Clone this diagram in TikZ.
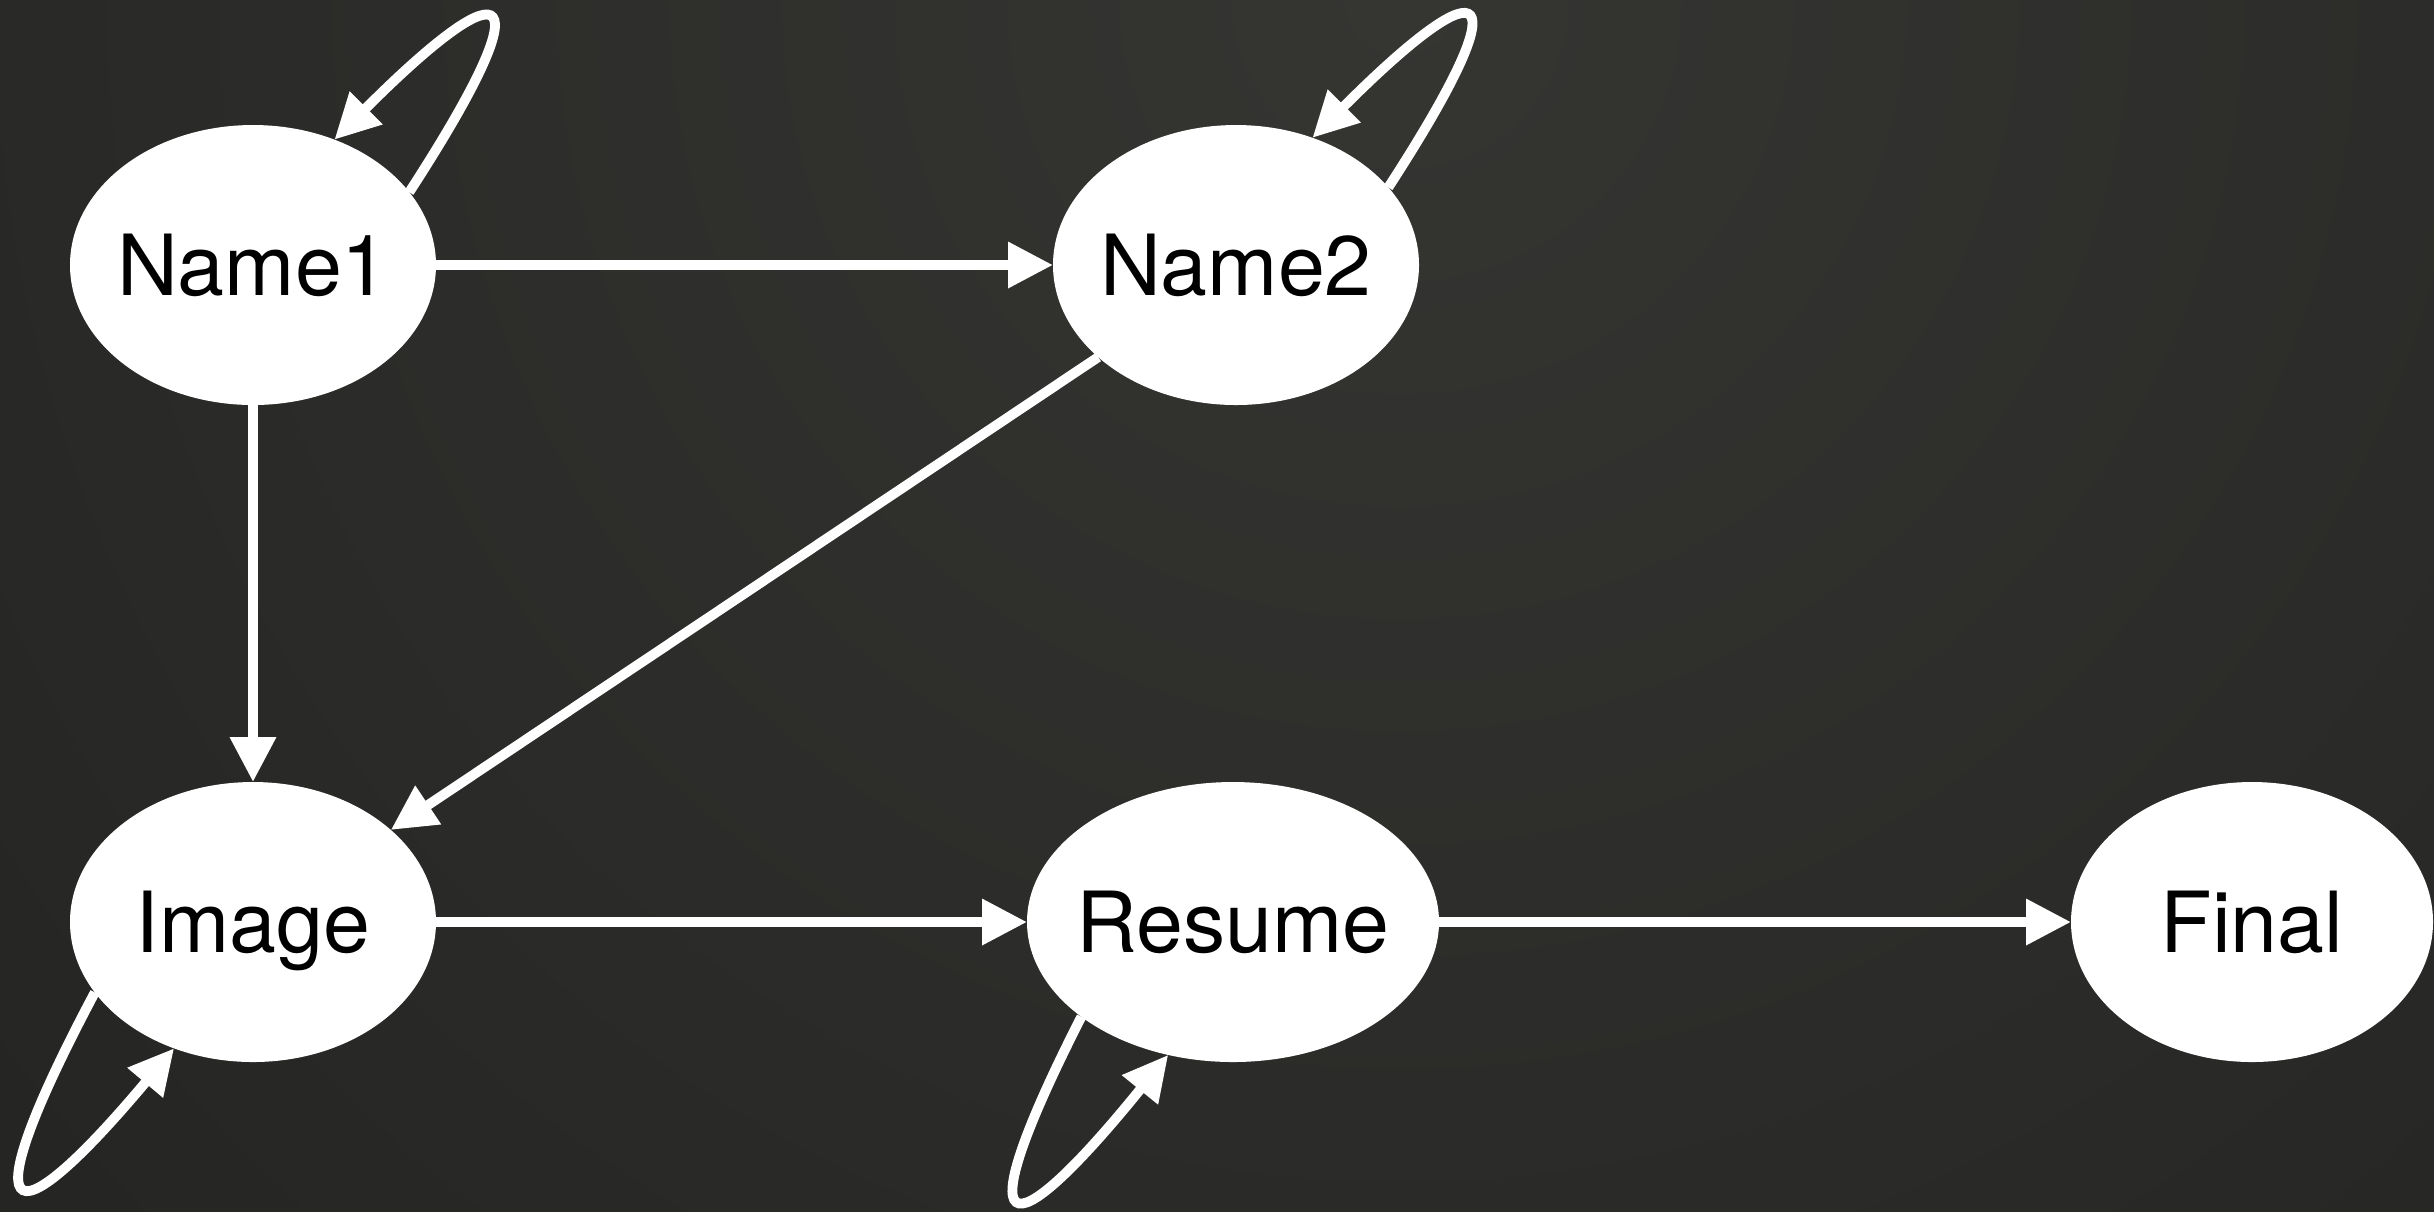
\documentclass[tikz,border=0pt]{standalone}
\usepackage{fontspec}
\setmainfont{TeX Gyre Heros}
\usepackage{tikz}
\usetikzlibrary{arrows.meta}
\usetikzlibrary{shapes}
\definecolor{bgtop}{HTML}{353632}
\definecolor{bgbot}{HTML}{151515}
\tikzset{
	state/.style={ellipse, fill=white, draw=none, inner sep=0pt, outer sep=0pt,
		minimum width=3.66cm, minimum height=2.8cm, text=black,
		font=\fontsize{24}{28}\selectfont, text height=17.2pt, text depth=0pt},
	link/.style={draw=white, line width=2.8pt, -{Triangle[length=0.45cm, width=0.44cm]}},
	selfloop/.style={link, looseness=7},
}
\newcommand{\statelabel}[1]{\makebox[0pt]{#1}}

\begin{document}
\begin{tikzpicture}
	\useasboundingbox (0,0) rectangle (24.34,-12.11);
\begin{scope}
	\clip (0,0) rectangle (24.34,-12.11);
	\shade[inner color=bgtop, outer color=bgbot] (14,0) circle (36);
\end{scope}
	% states
	\node[state] (name1) at (2.53,-2.65) {\statelabel{Name1}};
	\node[state] (name2) at (12.36,-2.65) {\statelabel{Name2}};
	\node[state] (image) at (2.53,-9.22) {\statelabel{Image}};
	\node[state, minimum width=4.12cm] (resume) at (12.33,-9.22) {\statelabel{Resume}};
	\node[state, minimum width=3.62cm] (final) at (22.52,-9.22) {\statelabel{Final}};
	% transitions
	\draw[link] (name1) -- (name2);
	\draw[link] (name1) -- (image);
	\draw[link] (name2) -- (image);
	\draw[link] (image) -- (resume);
	\draw[link] (resume) -- (final);
	\draw[selfloop] (name1.25) to[out=57, in=45] (name1.57);
	\draw[selfloop] (name2.27) to[out=57, in=45] (name2.59);
	\draw[selfloop] (image.204) to[out=242, in=230] (image.238);
	\draw[selfloop] (resume.212) to[out=243, in=231] (resume.244);
\end{tikzpicture}
\end{document}
